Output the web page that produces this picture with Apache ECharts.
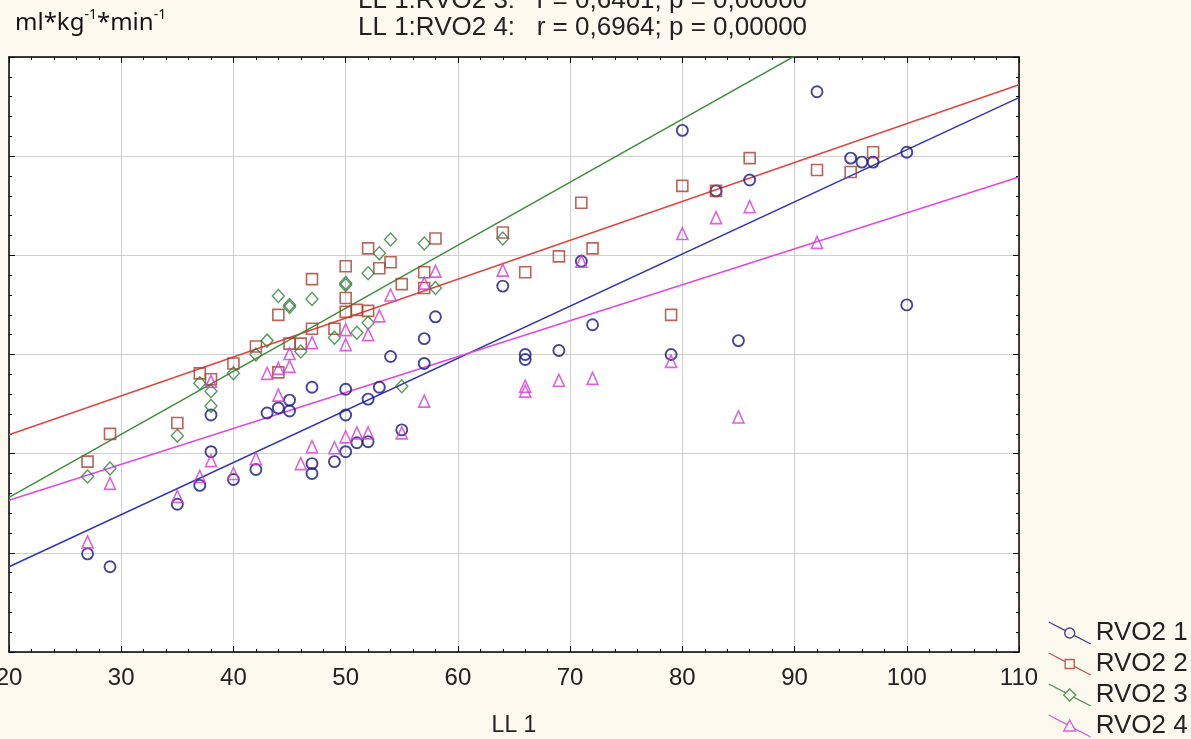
<!DOCTYPE html>
<html><head><meta charset="utf-8">
<script src="https://cdn.jsdelivr.net/npm/echarts@6/dist/echarts.min.js"></script>
<style>html,body{margin:0;padding:0;background:#fcf9ef;}#c{width:1191px;height:739px;}</style>
</head><body><div id="c"></div>
<script>
// ---- data ----
const seriesNames = ['RVO2 1', 'RVO2 2', 'RVO2 3', 'RVO2 4'];
const xAxisName = 'LL 1';
const unitText = ['ml*kg', '-1', '*min', '-1'];
const statLines = ['LL 1:RVO2 3:   r = 0,6401; p = 0,00000', 'LL 1:RVO2 4:   r = 0,6964; p = 0,00000'];

const rvo1 = [[27,19.9],[29,18.6],[35,24.9],[37,26.8],[38,33.9],[38,30.2],[40,27.4],[42,28.4],[43,34.1],[44,34.6],[45,35.4],[45,34.3],[47,36.7],[47,29.0],[47,28.0],[49,29.2],[50,36.5],[50,33.9],[50,30.2],[51,31.1],[52,35.5],[52,31.2],[53,36.7],[54,39.8],[55,32.4],[57,41.6],[57,39.1],[58,43.8],[64,46.9],[66,40.0],[66,39.5],[69,40.4],[71,49.4],[72,43.0],[79,40.0],[80,62.6],[83,56.5],[85,41.4],[86,57.6],[92,66.5],[95,59.8],[96,59.4],[97,59.4],[100,60.4],[100,45.0]];
const rvo2 = [[27,29.2],[29,32.0],[35,33.1],[37,38.1],[38,37.5],[40,39.1],[42,40.8],[44,38.2],[44,44.0],[45,41.1],[46,41.1],[47,42.6],[47,47.6],[49,42.6],[50,48.9],[50,45.7],[50,44.3],[51,44.5],[52,50.7],[52,44.4],[53,48.7],[54,49.3],[55,47.1],[57,48.3],[57,46.7],[58,51.7],[64,52.3],[66,48.3],[69,49.9],[71,55.3],[72,50.7],[79,44.0],[80,57.0],[83,56.5],[86,59.8],[92,58.6],[95,58.4],[97,60.4]];
const rvo3 = [[27,27.7],[29,28.5],[35,31.8],[37,37.1],[38,36.3],[38,34.8],[40,38.1],[42,40.0],[43,41.4],[44,45.9],[45,44.8],[45,45.0],[46,40.3],[47,45.6],[49,41.7],[50,47.2],[50,47.0],[51,42.2],[52,48.2],[52,43.2],[53,50.2],[54,51.6],[55,36.8],[57,51.2],[58,46.7],[64,51.7]];
const rvo4 = [[27,21.1],[29,27.0],[35,25.7],[37,27.7],[38,29.3],[38,37.3],[40,28.0],[42,29.5],[43,38.1],[44,38.6],[44,35.9],[45,38.8],[45,40.1],[46,29.0],[47,30.7],[47,41.2],[49,30.6],[50,42.5],[50,41.0],[50,31.7],[51,32.1],[52,32.1],[52,42.0],[53,43.9],[54,46.0],[55,32.1],[57,35.3],[57,47.2],[58,48.4],[64,48.5],[66,36.8],[66,36.3],[69,37.4],[71,49.4],[72,37.6],[79,39.3],[80,52.2],[83,53.8],[85,33.7],[86,54.9],[92,51.3]];

// regression line end points
const fit1 = [[20,18.6],[110,65.9]];
const fit2 = [[20,31.9],[110,67.2]];
const fit3 = [[20,25.6],[110,82.8]];
const fit4 = [[20,25.3],[110,57.9]];

// ---- styling ----
const markColors = ['#18187e', '#a8402e', '#2f7d3a', '#d23cd2'];
const lineColors = ['#3434b4', '#e0463e', '#3f8f3f', '#e048e0'];
const symbols = ['circle', 'rect', 'diamond', 'triangle'];
const symbolSizes = [11, 11, [12, 13], [11, 12]];
const borderWidths = [1.9, 1.6, 1.4, 1.6];
const legendIcons = [
  'path://M0 0L16.6 8.7M25.4 13.3L42 22M26 11A5 5 0 1 1 16 11A5 5 0 1 1 26 11Z',
  'path://M0 0L16.5 8.6M25.5 13.4L42 22M16.5 6.5L25.5 6.5L25.5 15.5L16.5 15.5Z',
  'path://M0 0L17.1 8.9M24.9 13.1L42 22M21 5L27 11L21 17L15 11Z',
  'path://M0 0L18.4 9.7M25.5 13.4L42 22M21 5L27 16L15 16Z'
];
const dataSets = [rvo1, rvo2, rvo3, rvo4];
const fits = [fit1, fit2, fit3, fit4];

const FONT = 'Liberation Sans, Arial, sans-serif';
const chart = echarts.init(document.getElementById('c'), null, {renderer: 'canvas'});
const axisLineStyle = {show: true, onZero: false, lineStyle: {color: '#000', width: 1.5}};
const tick = {show: true, inside: true, length: 6, lineStyle: {color: '#000', width: 1}};
const minor = {show: true, splitNumber: 5, length: 3, lineStyle: {color: '#000', width: 1}};
const gridLine = {show: true, lineStyle: {color: '#cfcfcf', width: 1}};

const series = [];
fits.forEach((f, i) => {
  series.push({
    name: 'fit ' + (i + 1), type: 'line', data: f, symbol: 'none', clip: true, silent: true,
    lineStyle: {color: lineColors[i], width: 1.5}, z: 2
  });
});
dataSets.forEach((d, i) => {
  series.push({
    name: seriesNames[i], type: 'scatter', data: d, symbol: symbols[i], symbolSize: symbolSizes[i],
    itemStyle: {color: 'rgba(0,0,0,0)', borderColor: markColors[i], borderWidth: borderWidths[i]}, z: 3
  });
});

chart.setOption({
  animation: false,
  backgroundColor: '#fcf9ef',
  title: [
    {
      text: '{a|' + unitText[0] + '}{s|' + unitText[1] + '}{a|' + unitText[2] + '}{s|' + unitText[3] + '}',
      left: 15, top: 8, padding: 0,
      textStyle: {
        fontWeight: 'normal',
        rich: {
          a: {fontFamily: 'Noto Sans', fontSize: 24, fontWeight: 'normal', color: '#111', lineHeight: 30},
          s: {fontFamily: 'Noto Sans', fontSize: 14, fontWeight: 'normal', color: '#111', verticalAlign: 'top', lineHeight: 30, padding: [0, 0, 13, 0]}
        }
      }
    },
    {
      text: statLines.join('\n'),
      left: 358, top: -13, padding: 0,
      textStyle: {fontFamily: FONT, fontSize: 26, fontWeight: 'normal', color: '#222', lineHeight: 27}
    }
  ],
  grid: {left: 9, right: 172, top: 57, bottom: 87, show: true, backgroundColor: '#fff', borderWidth: 0, containLabel: false, outerBoundsMode: 'none'},
  legend: {
    orient: 'vertical', left: 1048, top: 620, itemWidth: 42, itemHeight: 22, itemGap: 5, padding: 0,
    height: 200,
    textStyle: {fontFamily: FONT, fontSize: 26, color: '#222', lineHeight: 22},
    data: seriesNames.map((n, i) => ({
      name: n, icon: legendIcons[i],
      itemStyle: {color: 'rgba(0,0,0,0)', borderColor: markColors[i], borderWidth: 1.4}
    }))
  },
  xAxis: [
    {
      type: 'value', position: 'bottom', min: 20, max: 110, interval: 10,
      name: xAxisName, nameLocation: 'middle', nameGap: 62,
      nameTextStyle: {fontFamily: FONT, fontSize: 23, color: '#222'},
      axisLine: axisLineStyle, axisTick: tick, minorTick: minor, splitLine: gridLine,
      axisLabel: {fontFamily: FONT, fontSize: 24, color: '#222', margin: 14}
    },
    {
      type: 'value', position: 'top', min: 20, max: 110, interval: 10,
      axisLine: axisLineStyle, axisTick: tick, minorTick: minor, splitLine: {show: false}, axisLabel: {show: false}
    }
  ],
  yAxis: [
    {
      type: 'value', position: 'left', min: 10, max: 70, interval: 10,
      axisLine: axisLineStyle, axisTick: tick, minorTick: minor, splitLine: gridLine, axisLabel: {show: false}
    },
    {
      type: 'value', position: 'right', min: 10, max: 70, interval: 10,
      axisLine: axisLineStyle, axisTick: tick, minorTick: minor, splitLine: {show: false}, axisLabel: {show: false}
    }
  ],
  series: series
});
</script></body></html>
